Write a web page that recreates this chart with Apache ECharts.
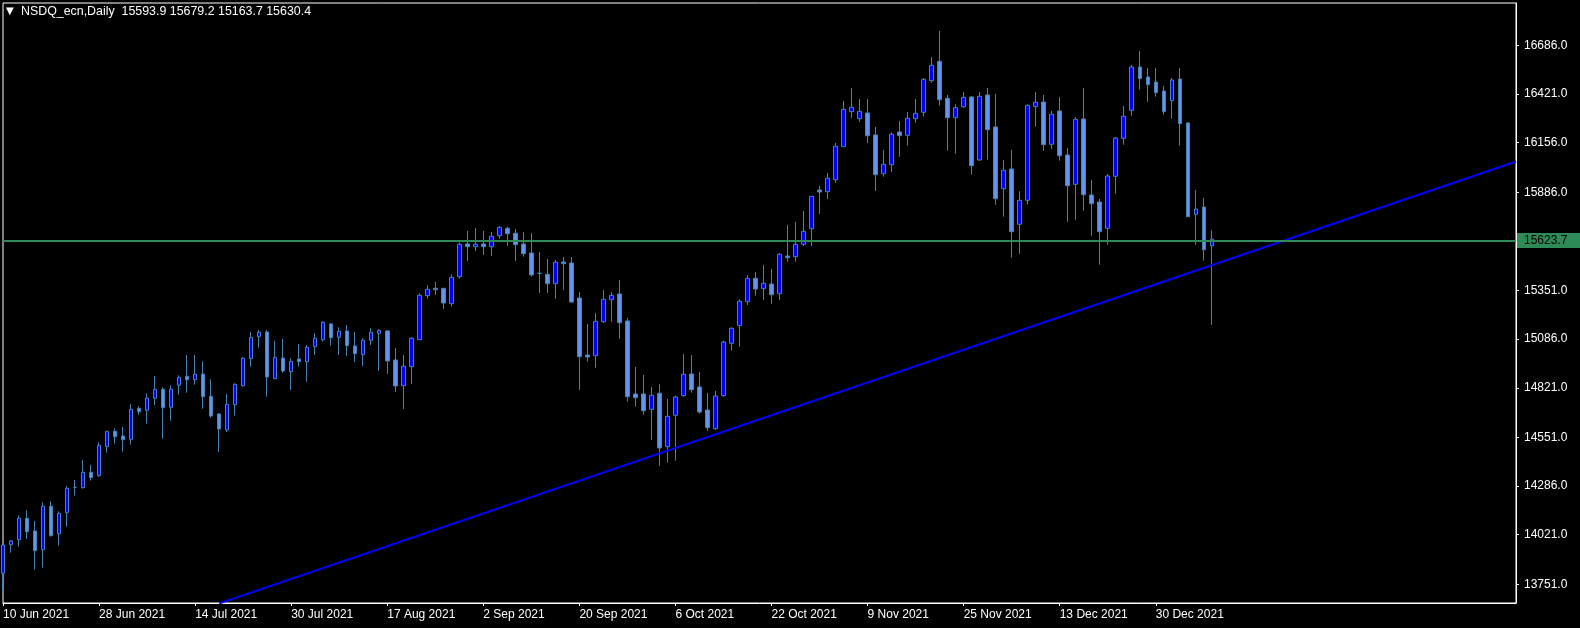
<!DOCTYPE html>
<html>
<head>
<meta charset="utf-8">
<script src="https://cdn.jsdelivr.net/npm/echarts@6/dist/echarts.min.js"></script>
<style>html,body{margin:0;padding:0;background:#000;}#chart{width:1580px;height:628px;}</style>
</head>
<body>
<div id="chart"></div>
<script>
const symbolName = 'NSDQ_ecn,Daily';
const dates = [
'10 Jun 2021','11 Jun 2021','14 Jun 2021','15 Jun 2021','16 Jun 2021','17 Jun 2021','18 Jun 2021','21 Jun 2021','22 Jun 2021','23 Jun 2021','24 Jun 2021','25 Jun 2021','28 Jun 2021','29 Jun 2021','30 Jun 2021',
'1 Jul 2021','2 Jul 2021','5 Jul 2021','6 Jul 2021','7 Jul 2021','8 Jul 2021','9 Jul 2021','12 Jul 2021','13 Jul 2021','14 Jul 2021','15 Jul 2021','16 Jul 2021','19 Jul 2021','20 Jul 2021','21 Jul 2021','22 Jul 2021','23 Jul 2021','26 Jul 2021','27 Jul 2021','28 Jul 2021','29 Jul 2021','30 Jul 2021',
'2 Aug 2021','3 Aug 2021','4 Aug 2021','5 Aug 2021','6 Aug 2021','9 Aug 2021','10 Aug 2021','11 Aug 2021','12 Aug 2021','13 Aug 2021','16 Aug 2021','17 Aug 2021','18 Aug 2021','19 Aug 2021','20 Aug 2021','23 Aug 2021','24 Aug 2021','25 Aug 2021','26 Aug 2021','27 Aug 2021','30 Aug 2021','31 Aug 2021',
'1 Sep 2021','2 Sep 2021','3 Sep 2021','6 Sep 2021','7 Sep 2021','8 Sep 2021','9 Sep 2021','10 Sep 2021','13 Sep 2021','14 Sep 2021','15 Sep 2021','16 Sep 2021','17 Sep 2021','20 Sep 2021','21 Sep 2021','22 Sep 2021','23 Sep 2021','24 Sep 2021','27 Sep 2021','28 Sep 2021','29 Sep 2021','30 Sep 2021',
'1 Oct 2021','4 Oct 2021','5 Oct 2021','6 Oct 2021','7 Oct 2021','8 Oct 2021','11 Oct 2021','12 Oct 2021','13 Oct 2021','14 Oct 2021','15 Oct 2021','18 Oct 2021','19 Oct 2021','20 Oct 2021','21 Oct 2021','22 Oct 2021','25 Oct 2021','26 Oct 2021','27 Oct 2021','28 Oct 2021','29 Oct 2021',
'1 Nov 2021','2 Nov 2021','3 Nov 2021','4 Nov 2021','5 Nov 2021','8 Nov 2021','9 Nov 2021','10 Nov 2021','11 Nov 2021','12 Nov 2021','15 Nov 2021','16 Nov 2021','17 Nov 2021','18 Nov 2021','19 Nov 2021','22 Nov 2021','23 Nov 2021','24 Nov 2021','25 Nov 2021','26 Nov 2021','29 Nov 2021','30 Nov 2021',
'1 Dec 2021','2 Dec 2021','3 Dec 2021','6 Dec 2021','7 Dec 2021','8 Dec 2021','9 Dec 2021','10 Dec 2021','13 Dec 2021','14 Dec 2021','15 Dec 2021','16 Dec 2021','17 Dec 2021','20 Dec 2021','21 Dec 2021','22 Dec 2021','23 Dec 2021','27 Dec 2021','28 Dec 2021','29 Dec 2021','30 Dec 2021','31 Dec 2021',
'3 Jan 2022','4 Jan 2022','5 Jan 2022','6 Jan 2022','7 Jan 2022','10 Jan 2022'
];
const opens = [
13811.1,13966.8,13994.0,14110.6,14041.4,13939.6,14175.9,14026.7,14141.0,14279.3,
14277.2,14361.0,14342.5,14500.4,14584.3,14558.7,14540.7,14709.5,14698.6,14764.0,
14813.0,14715.0,14834.7,14883.7,14865.2,14896.3,14774.8,14678.5,14591.3,14729.1,
14832.6,14979.6,15099.4,15125.0,14870.7,14983.4,14908.8,14977.9,14963.2,15044.9,
15083.0,15168.5,15096.1,15130.4,15048.7,15001.4,15079.7,15117.9,15130.4,14972.5,
14832.6,14936.0,15083.0,15322.6,15362.9,15362.9,15279.1,15426.1,15604.1,15589.4,
15604.1,15589.4,15649.3,15689.6,15662.4,15604.1,15555.1,15444.5,15439.1,15388.0,
15506.1,15500.7,15310.1,14999.7,14995.9,15181.0,15300.8,15331.9,15184.9,14787.4,
14787.4,14704.1,14791.2,14500.4,14671.4,14778.1,14896.3,14825.5,14700.2,14598.4,
14778.1,15063.4,15159.3,15289.9,15417.3,15360.7,15386.3,15333.5,15538.8,15535.0,
15602.5,15687.4,15898.1,15888.9,15954.2,16133.9,16324.5,16286.4,16317.4,16197.6,
15986.9,16035.9,16214.0,16196.0,16286.4,16321.2,16493.3,16598.9,16397.4,16291.8,
16351.7,16404.5,16061.5,16415.4,16241.2,15905.2,16012.5,15711.4,15842.1,16351.7,
16377.3,16147.0,16328.3,16088.7,15929.2,16284.7,15870.9,15832.8,15689.6,15972.7,
16179.6,16332.1,16567.9,16513.4,16486.2,16437.2,16384.4,16502.5,16263.0,15765.8,
15805.6,15593.9
];
const highs = [
13970.6,13992.4,14126.9,14154.1,14095.9,14197.7,14203.1,14148.7,14286.4,14319.1,
14428.0,14400.8,14524.4,14584.3,14600.6,14607.7,14732.9,14720.4,14791.2,14885.4,
14823.8,14834.7,14889.2,14999.7,14999.7,14965.4,14867.4,14683.9,14787.4,14845.6,
14988.8,15125.0,15135.8,15135.8,15077.6,15086.8,14981.8,15059.6,15054.2,15117.9,
15183.2,15174.0,15150.6,15163.1,15125.0,15090.7,15145.1,15139.7,15135.8,15037.8,
14999.7,15096.1,15335.7,15379.2,15397.2,15364.0,15439.1,15613.4,15674.9,15691.2,
15674.9,15669.5,15702.1,15698.3,15685.8,15669.5,15664.0,15560.6,15522.4,15517.0,
15533.3,15533.3,15342.8,15168.5,15228.4,15353.6,15342.8,15408.1,15201.2,14934.4,
14890.8,14825.5,14840.2,14760.1,14778.1,15005.2,14998.1,14907.2,14792.8,14803.7,
15077.6,15150.0,15303.0,15435.3,15451.7,15489.8,15468.0,15553.5,15707.6,15723.9,
15783.8,15863.8,15919.9,15990.7,16154.1,16382.8,16453.5,16393.6,16393.6,16241.2,
16115.9,16212.3,16273.9,16322.9,16393.6,16506.4,16622.3,16763.9,16415.4,16364.8,
16431.8,16410.0,16431.8,16453.5,16420.9,16061.5,16115.9,15891.1,16364.8,16431.8,
16415.4,16328.3,16404.5,16126.8,16295.6,16453.5,15952.6,15849.1,15985.3,16186.7,
16355.5,16578.8,16655.0,16562.4,16562.4,16464.4,16508.0,16562.4,16268.4,15898.1,
15854.6,15679.2
];
const lows = [
13716.3,13923.2,13955.9,13997.8,13830.7,13841.6,14010.4,13961.4,14064.8,14233.6,
14271.7,14315.3,14337.1,14467.8,14516.7,14473.2,14511.3,14674.7,14625.7,14727.5,
14544.0,14642.0,14783.6,14794.4,14838.0,14707.3,14658.3,14471.6,14580.5,14669.2,
14827.1,14936.0,15039.5,14772.7,14869.0,14901.7,14809.1,14936.0,14854.3,14999.7,
15072.1,15050.4,14999.7,14994.3,14961.6,14939.8,15054.2,14912.6,14896.3,14798.3,
14705.7,14841.8,15081.4,15306.3,15326.4,15250.2,15262.7,15415.2,15511.6,15566.0,
15544.2,15538.8,15633.0,15593.2,15511.6,15535.0,15426.1,15337.3,15337.3,15306.3,
15353.6,15282.9,14809.1,14963.2,14930.6,15175.6,15181.0,15088.5,14745.4,14718.2,
14674.7,14536.9,14395.3,14413.3,14424.2,14772.7,14794.4,14680.1,14585.9,14593.0,
14772.7,15023.1,15044.9,15272.0,15322.6,15299.2,15279.1,15299.2,15507.7,15507.7,
15593.2,15593.2,15767.5,15849.1,15936.3,16133.9,16290.2,16268.4,16154.1,15892.7,
15970.6,15996.2,16079.5,16139.4,16264.6,16297.3,16482.4,16357.2,16112.1,16095.8,
16344.6,15981.5,16057.7,16063.1,15818.1,15752.8,15529.5,15551.3,15818.1,16242.8,
16112.1,16121.4,16057.7,15725.5,15736.4,15785.4,15649.3,15491.4,15600.3,15878.0,
16144.8,16302.7,16444.3,16378.9,16406.2,16308.2,16286.4,16139.4,15752.8,15600.3,
15513.2,15163.7
];
const closes = [
13965.2,13987.0,14110.6,14037.6,13934.1,14175.9,14015.8,14137.8,14273.9,14279.3,
14361.0,14331.6,14508.0,14584.3,14554.9,14538.5,14704.1,14691.0,14764.0,14813.0,
14712.8,14813.0,14878.3,14865.2,14894.6,14772.7,14667.6,14596.8,14731.3,14840.2,
14981.8,15096.1,15123.3,14879.9,14987.2,14912.6,14965.4,14963.2,15041.7,15090.7,
15177.8,15093.9,15128.8,15050.4,15006.8,15079.7,15123.3,15134.2,14967.1,14830.9,
14938.2,15090.7,15324.8,15357.5,15355.3,15282.9,15422.8,15602.5,15589.4,15602.5,
15589.4,15646.0,15695.0,15660.2,15600.3,15551.3,15435.3,15444.5,15388.0,15504.5,
15496.8,15288.3,14990.5,14988.8,15183.2,15303.0,15324.8,15175.6,14772.7,14767.2,
14696.4,14780.3,14493.3,14665.9,14771.0,14894.6,14810.8,14689.4,14603.9,14776.5,
15070.5,15145.1,15292.1,15417.3,15359.1,15390.1,15328.1,15548.0,15529.5,15602.5,
15673.3,15863.8,15887.3,15961.9,16136.1,16337.6,16348.5,16326.7,16193.8,15981.5,
16038.1,16201.4,16193.8,16288.6,16315.8,16500.9,16577.1,16389.8,16291.8,16346.3,
16402.9,16030.5,16408.3,16226.5,15850.8,16005.4,15671.1,15842.1,16359.3,16375.7,
16144.8,16310.3,16084.9,15921.6,16283.1,15872.6,15823.6,15671.1,15974.4,16181.3,
16299.4,16567.9,16504.2,16471.5,16427.9,16324.5,16497.1,16259.2,15752.8,15794.7,
15573.1,15630.4
];
const yTicks = [16686, 16421, 16156, 15886, 15351, 15086, 14821, 14551, 14286, 14021, 13751];
const hLine = 15623.7;
const trendLine = [[27, 13647], [189, 16053]];
const emptySlots = 38;

const cats = dates.concat(new Array(emptySlots).fill(''));
const candleData = dates.map((d, i) => [opens[i], closes[i], lows[i], highs[i]]);
const last = dates.length - 1;
const titleText = symbolName + '  ' + [opens[last], highs[last], lows[last], closes[last]].map(v => v.toFixed(1)).join(' ');
const FONT = 'Liberation Sans';
const showIdx = (idx, val) => val !== '' && idx % 12 === 0;

const chart = echarts.init(document.getElementById('chart'), null, {renderer: 'canvas'});
chart.setOption({
  backgroundColor: '#000',
  animation: false,
  title: [
    {text: '▼', left: 6, top: 6, padding: 0, textStyle: {color: '#fff', fontSize: 10, fontWeight: 'normal', fontFamily: 'DejaVu Sans'}},
    {text: titleText, left: 21, top: 6, padding: 0, textStyle: {color: '#fff', fontSize: 12.4, fontWeight: 'normal', fontFamily: FONT}}
  ],
  grid: {left: 2, right: 64, top: 3, bottom: 25, show: true, borderColor: '#fff', borderWidth: 1, backgroundColor: '#000', containLabel: false},
  xAxis: {
    type: 'category', data: cats, boundaryGap: false,
    axisLine: {show: true, lineStyle: {color: '#fff', width: 1}},
    axisTick: {show: true, interval: showIdx, length: 3, lineStyle: {color: '#fff'}},
    axisLabel: {show: true, interval: showIdx, align: 'left', color: '#fff', fontSize: 12, fontFamily: FONT, margin: 6},
    splitLine: {show: false}
  },
  yAxis: {
    type: 'value', position: 'right', scale: true, min: 13649.3, max: 16916.3,
    axisLine: {show: true, lineStyle: {color: '#fff', width: 1}},
    axisTick: {show: true, customValues: yTicks, length: 3, lineStyle: {color: '#fff'}},
    axisLabel: {show: true, customValues: yTicks, formatter: v => v.toFixed(1), color: '#fff', fontSize: 12, fontFamily: FONT, margin: 8, padding: [3, 0, 0, 0]},
    splitLine: {show: false}
  },
  series: [
    {
      type: 'candlestick', data: candleData, barWidth: 4, clip: true,
      itemStyle: {color: '#0000FF', color0: '#6495ED', borderColor: '#4682B4', borderColor0: '#4682B4', borderColorDoji: '#4682B4', borderWidth: 1},
      markLine: {
        silent: true, symbol: ['none', 'none'], animation: false,
        data: [
          {yAxis: closes[last], lineStyle: {opacity: 0, width: 0},
           label: {show: true, position: 'end', distance: 1, formatter: p => p.value.toFixed(1), color: '#000', backgroundColor: '#fff', padding: [4, 20, 1, 7], fontSize: 12, fontFamily: FONT}},
          {yAxis: hLine, lineStyle: {color: '#2E8B57', width: 2, type: 'solid', opacity: 1},
           label: {show: true, position: 'end', distance: 1, formatter: p => p.value.toFixed(1), color: '#000', backgroundColor: '#2E8B57', padding: [2, 20, 1, 7], fontSize: 12, fontFamily: FONT}}
        ]
      }
    },
    {
      type: 'line', data: trendLine, symbol: 'none', clip: true, silent: true,
      lineStyle: {color: '#0000FF', width: 2}
    }
  ]
});
</script>
</body>
</html>
